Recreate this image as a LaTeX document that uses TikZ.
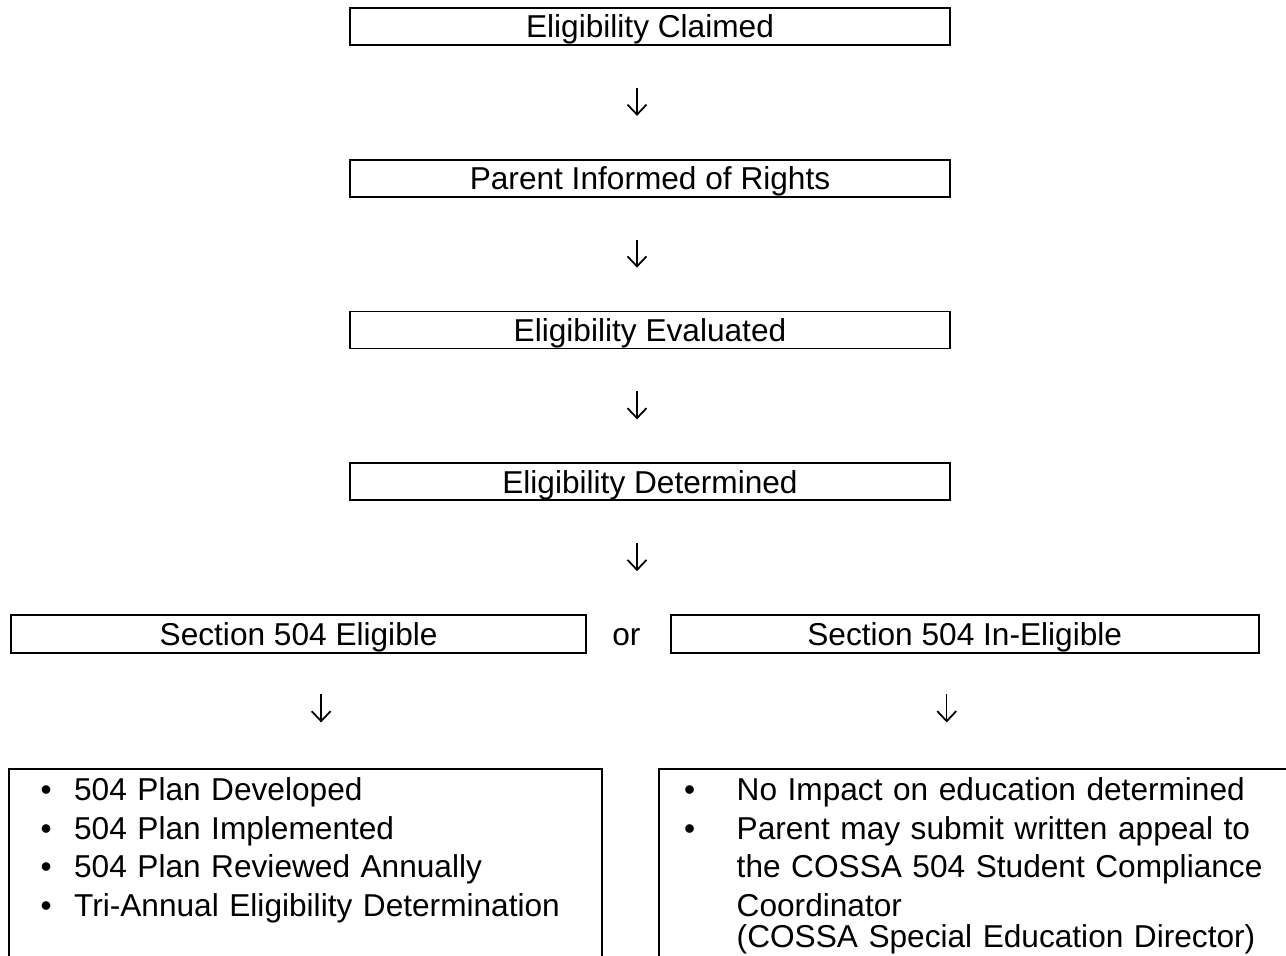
\documentclass[tikz,border=0pt]{standalone}
\usepackage{fontspec}
\setmainfont{Liberation Sans}
\usetikzlibrary{positioning,calc,arrows.meta}

\newcommand{\listbullet}[1][0.67cm]{\makebox[#1][l]{\textbullet}}

\begin{document}
\begin{tikzpicture}[
    every node/.style={font=\fontsize{18}{21.9}\selectfont},
    stepbox/.style={rectangle, draw=black, line width=1pt, inner sep=0pt,
                    minimum width=12cm, minimum height=0.74cm, align=center,
                    text height=13pt, text depth=0pt},
    widebox/.style={stepbox, minimum height=0.76cm},
    listbox/.style={rectangle, draw=black, line width=1pt, align=left,
                    inner ysep=0.18cm, text depth=6cm},
    orlabel/.style={inner sep=0pt, text height=13pt, text depth=0pt},
    myarrow/.style={-{Straight Barb[length=2mm, width=3.8mm, line width=1pt]}, line width=0.8pt},
    gaparrow/.style={myarrow, shorten <=0.84cm, shorten >=0.86cm},
]
\useasboundingbox (0,0) rectangle (25.72,-19.1);
\clip (0,0) rectangle (25.72,-19.1);

% --- Column of steps ---
\node[stepbox] (claimed) at (13,-0.53) {Eligibility Claimed};
\node[stepbox, below=2.26cm of claimed] (informed) {Parent Informed of Rights};
\node[stepbox, below=2.26cm of informed] (evaluated) {Eligibility Evaluated};
\node[stepbox, below=2.26cm of evaluated] (determined) {Eligibility Determined};

% --- Decision row ---
\node[widebox, minimum width=11.5cm, anchor=north east] (eligible)
    at ($(determined.south)+(-1.26,-2.26)$) {Section 504 Eligible};
\node[orlabel, right=0.5cm of eligible] (or) {or};
\node[widebox, minimum width=11.76cm, right=0.58cm of or] (ineligible) {Section 504 In-Eligible};

% --- Outcomes ---
\node[listbox, below=2.28cm of eligible.south west, anchor=north west, xshift=-0.04cm,
      inner xsep=0.63cm, text width=10.6cm] (plan)
    {\listbullet 504 Plan Developed\\
     \listbullet 504 Plan Implemented\\
     \listbullet 504 Plan Reviewed Annually\\
     \listbullet Tri-Annual Eligibility Determination};
\node[listbox, below=2.28cm of ineligible.south west, anchor=north west, xshift=-0.24cm,
      inner xsep=0.51cm, text width=12.98cm] (appeal)
    {\listbullet[1.05cm]No Impact on education determined\\
     \listbullet[1.05cm]Parent may submit written appeal to\\
     \hspace*{1.05cm}the COSSA 504 Student Compliance\\
     \hspace*{1.05cm}Coordinator\\[-0.15cm]
     \hspace*{1.05cm}(COSSA Special Education Director)};

% --- Arrows ---
\draw[gaparrow] ([xshift=-0.26cm]claimed.south) -- ([xshift=-0.26cm]informed.north);
\draw[gaparrow] ([xshift=-0.26cm]informed.south) -- ([xshift=-0.26cm]evaluated.north);
\draw[gaparrow] ([xshift=-0.26cm]evaluated.south) -- ([xshift=-0.26cm]determined.north);
\draw[gaparrow] ([xshift=-0.26cm]determined.south) -- ([xshift=-0.26cm]determined.south |- eligible.north);
\draw[myarrow, shorten <=0.8cm, shorten >=0.91cm]
    ([xshift=0.45cm]eligible.south) -- ([xshift=0.45cm]eligible.south |- plan.north);
\draw[myarrow, shorten <=0.8cm, shorten >=0.91cm]
    ([xshift=-0.36cm]ineligible.south) -- ([xshift=-0.36cm]ineligible.south |- appeal.north);

\end{tikzpicture}
\end{document}
